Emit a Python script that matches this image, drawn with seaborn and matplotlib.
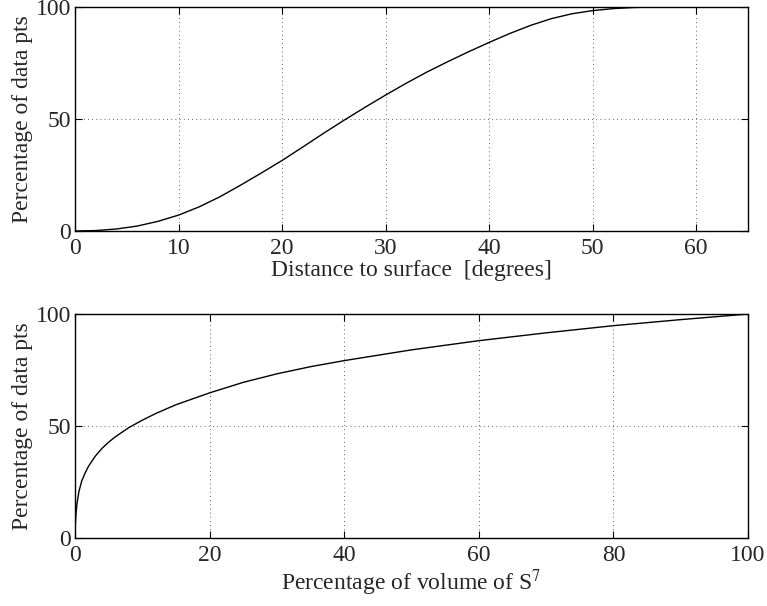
import numpy as np
import pandas as pd
import matplotlib
matplotlib.use('Agg')
import matplotlib.pyplot as plt
import seaborn as sns

# Top panel: cumulative share of data points vs distance to surface
dist_deg = [0, 2, 4, 6, 8, 10, 12, 14, 16, 18, 20, 22, 24, 26, 28, 30, 32, 34, 36, 38,
            40, 42, 44, 46, 48, 50, 52, 54, 56, 60]
dist_pct = [0, 0.2, 0.9, 2.2, 4.3, 7.1, 10.8, 15.3, 20.5, 25.9, 31.5, 37.5, 43.6, 49.5, 55.2,
            60.7, 66, 71, 75.6, 80, 84.2, 88.2, 91.8, 94.8, 97, 98.4, 99.3, 99.8, 100, 100]

# Bottom panel: cumulative share of data points vs volume of S^7
vol_pct = [0, 0.05, 0.15, 0.3, 0.6, 1, 1.5, 2, 3, 4, 5, 6, 8, 10, 12, 15, 20, 25, 30, 35,
           40, 50, 60, 70, 80, 90, 100]
vol_data = [0, 6, 11, 15.5, 21, 25.5, 29, 32, 36.5, 40, 42.8, 45.2, 49.3, 52.6, 55.6, 59.5,
            64.8, 69.5, 73.3, 76.5, 79.2, 84, 88.1, 91.6, 94.8, 97.5, 100]

sns.set_style('ticks')
plt.rcParams['font.family'] = ['Liberation Serif', 'DejaVu Serif']
plt.rcParams['mathtext.fontset'] = 'stix'
plt.rcParams['xtick.direction'] = 'in'
plt.rcParams['ytick.direction'] = 'in'

fig = plt.figure(figsize=(7.67, 6.06), dpi=100)
ax1 = fig.add_axes([0.0978, 0.6188, 0.8774, 0.3696])
ax2 = fig.add_axes([0.0978, 0.1122, 0.8774, 0.3696])

top = pd.DataFrame({'x': dist_deg, 'y': dist_pct})
bot = pd.DataFrame({'x': vol_pct, 'y': vol_data})

sns.lineplot(data=top, x='x', y='y', ax=ax1, color='k', lw=1.0, sort=False)
sns.lineplot(data=bot, x='x', y='y', ax=ax2, color='k', lw=1.0, sort=False)

for ax, xmax, xt, xl in [
    (ax1, 65, range(0, 61, 10), 'Distance to surface  [degrees]'),
    (ax2, 100, range(0, 101, 20), 'Percentage of volume of S$^7$'),
]:
    ax.set_xlim(0, xmax)
    ax.set_ylim(0, 100)
    ax.set_xticks(list(xt))
    ax.set_yticks([0, 50, 100])
    ax.grid(True, ls=(0, (1, 4)), color='k', lw=0.6, alpha=0.8)
    ax.tick_params(which='both', top=True, right=True, length=5, width=0.8,
                   labelsize=17, color='k')
    ax.tick_params(axis='x', pad=5)
    ax.tick_params(axis='y', pad=3)
    for s in ax.spines.values():
        s.set_linewidth(1.0)
        s.set_color('k')
    ax.set_xlabel(xl, fontsize=17, labelpad=1)
    ax.set_ylabel('Percentage of data pts', fontsize=17, labelpad=2)

fig.savefig('out.png', dpi=100)
